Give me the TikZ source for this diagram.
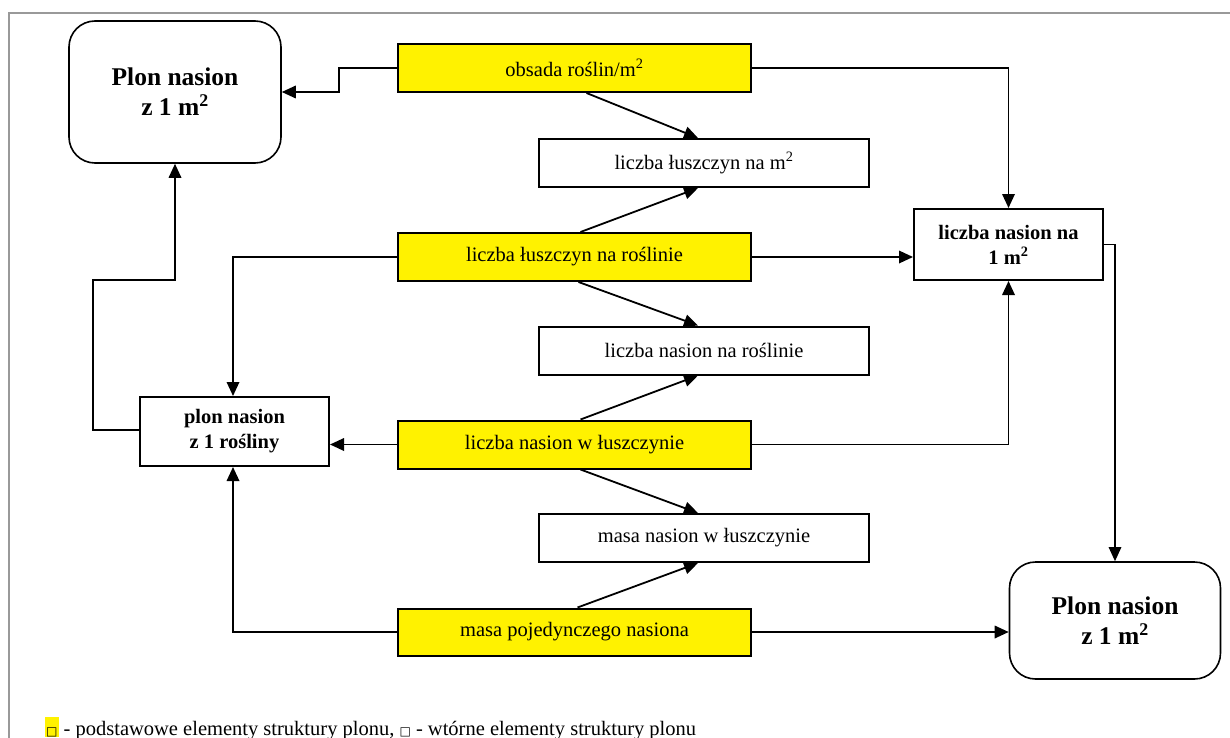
\documentclass[tikz,border=0pt]{standalone}
\usepackage{fontspec}
\setmainfont{Liberation Serif}
\newfontfamily\symf{DejaVu Sans}
\usetikzlibrary{arrows.meta,calc}
\begin{document}
\begin{tikzpicture}[x=1pt,y=-1pt,
  box/.style={draw=black, line width=2pt, rectangle, inner sep=0pt, align=center},
  prim/.style={box, fill=yellow, minimum width=353pt, minimum height=48pt, font=\fontsize{20.5}{24}\selectfont},
  sec/.style={box, fill=white, minimum width=330pt, minimum height=48pt, font=\fontsize{20.5}{24}\selectfont},
  bsec/.style={box, fill=white, font=\fontsize{20.5}{25}\selectfont\bfseries},
  yield/.style={draw=black, line width=1.6pt, rectangle, rounded corners=26pt, inner sep=0pt, align=center, font=\fontsize{25.5}{30}\selectfont\bfseries},
  conn/.style={line width=1.8pt, -{Triangle[length=14pt,width=12.5pt]}},
  frameline/.style={draw=black!40, line width=1.7pt}
]
\useasboundingbox (0,0) rectangle (1230,738);
\draw[frameline] (9,740) -- (9,13) -- (1232,13);

% nodes
\node[yield, minimum width=212pt, minimum height=142pt] (plonA) at (175,92) {Plon nasion\\z 1 m\textsuperscript{2}};
\node[prim] (obsada) at (574.5,68) {obsada roślin/m\textsuperscript{2}};
\node[sec] (lm2) at (704,163) {liczba łuszczyn na m\textsuperscript{2}};
\node[prim] (llr) at (574.5,257) {liczba łuszczyn na roślinie};
\node[bsec, minimum width=189pt, minimum height=71pt] (ln1m2) at (1008.5,244.5) {liczba nasion na\\1 m\textsuperscript{2}};
\node[sec] (lnr) at (704,350.5) {liczba nasion na roślinie};
\node[bsec, minimum width=189pt, minimum height=69pt] (plonR) at (234.5,431.5) {plon nasion\\z 1 rośliny};
\node[prim] (lnw) at (574.5,444.5) {liczba nasion w łuszczynie};
\node[sec] (mnw) at (704,538) {masa nasion w łuszczynie};
\node[prim, minimum height=47pt] (mpn) at (574.5,632) {masa pojedynczego nasiona};
\node[yield, minimum width=211pt, minimum height=117pt] (plonB) at (1115,620.5) {Plon nasion\\z 1 m\textsuperscript{2}};

\coordinate (lk1) at (93,280);

% connectors
\draw[conn] (obsada.west) -- ++(-58,0) |- (plonA.east);
\draw[conn] ($(obsada.south)+(12,0)$) -- ($(lm2.north)+(-6,0)$);
\draw[conn] (obsada.east) -| (ln1m2.north);
\draw[conn] ($(llr.north)+(6,0)$) -- ($(lm2.south)+(-6,0)$);
\draw[conn] ($(llr.south)+(4,0)$) -- ($(lnr.north)+(-6,0)$);
\draw[conn] (llr.east) -- (llr.east -| ln1m2.west);
\draw[conn] (llr.west) -| ([xshift=-1.5pt]plonR.north);
\draw[conn] ($(lnw.north)+(6,0)$) -- ($(lnr.south)+(-6,0)$);
\draw[conn] ($(lnw.south)+(6,0)$) -- ($(mnw.north)+(-6,0)$);
\draw[conn] (lnw.west) -- (lnw.west -| plonR.east);
\draw[conn] (lnw.east) -| (ln1m2.south);
\draw[conn] ($(mpn.north)+(3,0)$) -- ($(mnw.south)+(-6,0)$);
\draw[conn] (mpn.west) -| ([xshift=-1.5pt]plonR.south);
\draw[conn] (mpn.east) -- (mpn.east -| plonB.west);
\draw[conn] ([yshift=1.5pt]plonR.west) -| (lk1) -| (plonA.south);
\draw[conn, line width=1.2pt] (ln1m2.east) -| (plonB.north);

% legend
\node[anchor=base west, inner sep=0pt, font=\fontsize{20.5}{24}\selectfont] (legend) at (45,735)
 {{\setlength{\fboxsep}{1pt}\colorbox{yellow}{\rule{0pt}{17pt}\symf\fontsize{12}{12}\selectfont □}} - podstawowe elementy struktury plonu, {\symf\fontsize{12}{12}\selectfont □} - wtórne elementy struktury plonu};
\end{tikzpicture}
\end{document}
